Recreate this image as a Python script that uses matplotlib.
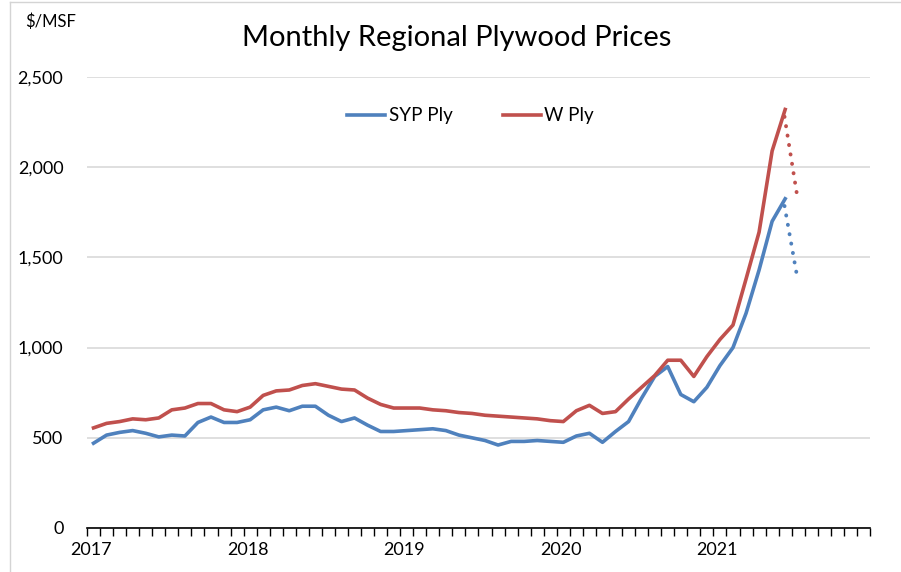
import numpy as np
import matplotlib
matplotlib.use("Agg")
import matplotlib.pyplot as plt
from matplotlib.lines import Line2D

# monthly prices, Jan 2017 .. Jun 2021 ($/MSF)
syp_ply = [470, 515, 530, 540, 525, 505, 515, 510, 585, 615, 585, 585,
           600, 655, 670, 650, 675, 675, 625, 590, 610, 570, 535, 535,
           540, 545, 550, 540, 515, 500, 485, 460, 480, 480, 485, 480,
           475, 510, 525, 475, 535, 590, 720, 840, 895, 740, 700, 780,
           900, 1000, 1190, 1430, 1700, 1825]
w_ply = [555, 580, 590, 605, 600, 610, 655, 665, 690, 690, 655, 645,
         670, 735, 760, 765, 790, 800, 785, 770, 765, 720, 685, 665,
         665, 665, 655, 650, 640, 635, 625, 620, 615, 610, 605, 595,
         590, 650, 680, 635, 645, 715, 780, 845, 930, 930, 840, 950,
         1045, 1125, 1380, 1640, 2090, 2320]
# July 2021 estimates (dotted)
syp_est = 1400
w_est = 1850

years = ["2017", "2018", "2019", "2020", "2021"]
n_months = 60

blue = "#4F81BD"
red = "#C0504D"

plt.rcParams['font.family'] = ['Lato', 'DejaVu Sans']

fig = plt.figure(figsize=(9.01, 5.72), dpi=100)
ax = fig.add_axes([87 / 901, 1 - 528 / 572, (870 - 87) / 901, (528 - 77) / 572])

x = np.arange(len(syp_ply)) + 0.5
ax.plot(x, syp_ply, color=blue, lw=2.6, solid_joinstyle="round", label="SYP Ply", zorder=3)
ax.plot(x, w_ply, color=red, lw=2.6, solid_joinstyle="round", label="W Ply", zorder=3)

xe = [x[-1] - 0.05, x[-1] + 0.9]
ax.plot(xe, [syp_ply[-1] - 40, syp_est], color=blue, lw=2.8, ls=(0, (0.05, 2.4)),
        dash_capstyle="round", zorder=3)
ax.plot(xe, [w_ply[-1] - 40, w_est], color=red, lw=2.8, ls=(0, (0.05, 2.4)),
        dash_capstyle="round", zorder=3)

ax.set_xlim(0, n_months)
ax.set_ylim(0, 2500)
ax.set_yticks(np.arange(0, 2501, 500))
ax.set_yticklabels([f"{v:,}" for v in range(0, 2501, 500)], fontsize=13)
ax.yaxis.grid(True, color="#d9d9d9", lw=1.2)
ax.set_axisbelow(True)
ax.tick_params(axis="y", length=0, pad=17)

ax.set_xticks(np.arange(0, n_months + 1), minor=True)
ax.set_xticks(np.arange(0, n_months, 12) + 0.3)
ax.set_xticklabels(years, fontsize=13)
ax.tick_params(axis="x", which="major", length=0, pad=10)
ax.tick_params(axis="x", which="minor", length=6, width=1, color="black")

for s in ["top", "right", "left"]:
    ax.spines[s].set_visible(False)
ax.spines["bottom"].set_color("black")
ax.spines["bottom"].set_linewidth(1.2)

ax.legend(loc="upper center", bbox_to_anchor=(0.49, 0.97), ncol=2, frameon=False,
          fontsize=13.5, handlelength=2.0, handletextpad=0.2, columnspacing=2.7)

fig.text(457 / 901, 1 - 38 / 572, "Monthly Regional Plywood Prices", fontsize=21,
         ha="center", va="center")
fig.text(25 / 901, 1 - 22 / 572, "$/MSF", fontsize=12, ha="left", va="center")

# faint frame of the original screenshot
fig.add_artist(Line2D([10 / 901, 10 / 901], [0, 1 - 2 / 572], color="#d4d4d4", lw=1))
fig.add_artist(Line2D([10 / 901, 1], [1 - 2 / 572, 1 - 2 / 572], color="#d4d4d4", lw=1))

fig.savefig("out.png", dpi=100)
